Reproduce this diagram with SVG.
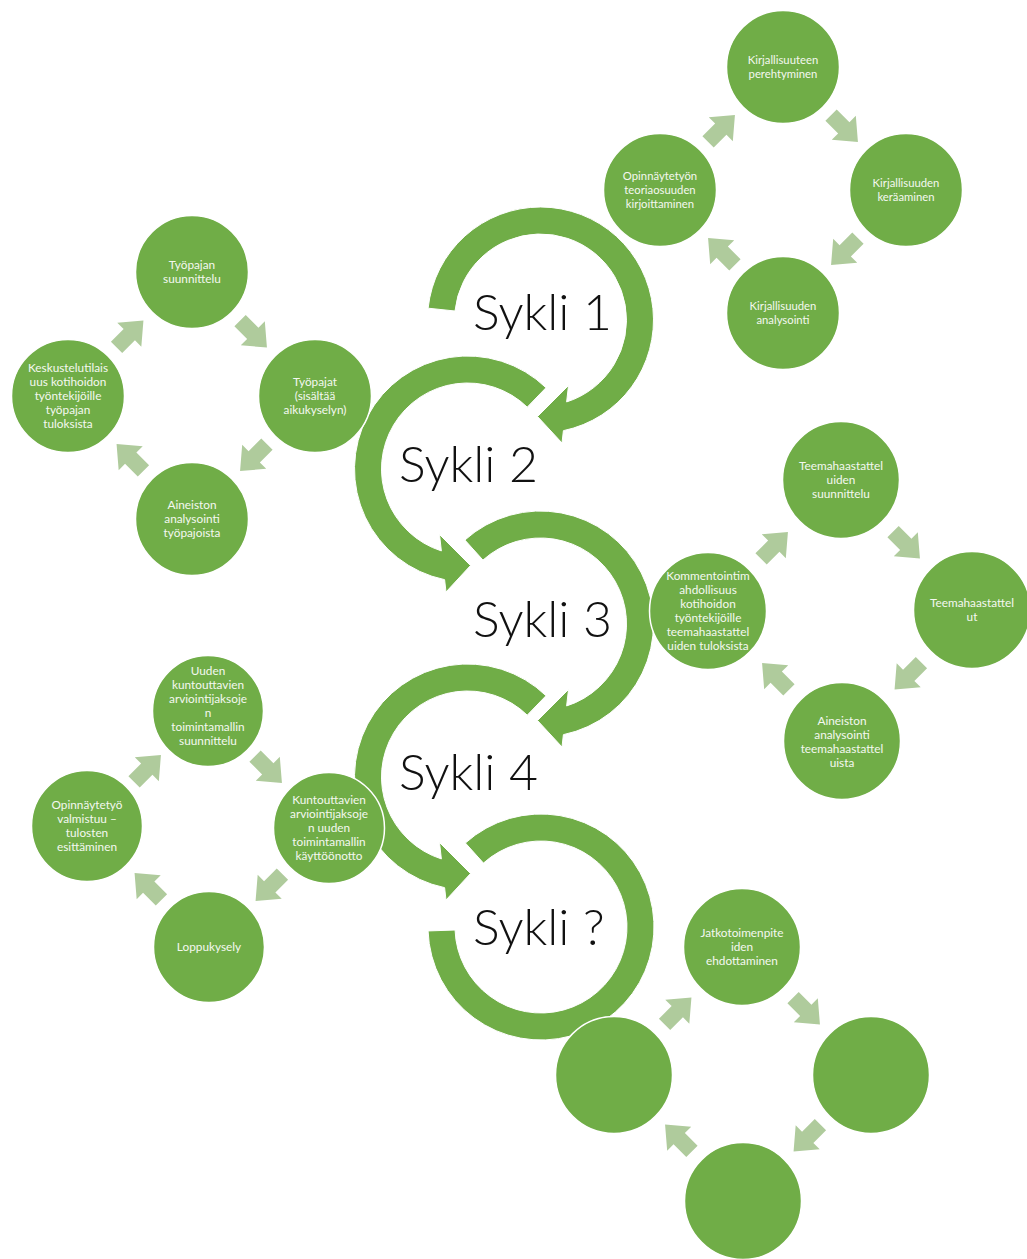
<svg xmlns="http://www.w3.org/2000/svg" xmlns:xlink="http://www.w3.org/1999/xlink" width="1027" height="1259" viewBox="0 0 1027 1259">
<style>
.c{fill:#70AD47;stroke:#fff;stroke-width:1.5}
.r{fill:#70AD47;stroke:#fff;stroke-width:1}
.a{fill:#AFCB9C}
.t{font-family:Lato,"Open Sans","Liberation Sans",sans-serif;fill:#f4f8f0;text-anchor:middle;font-size:11.8px}
.ts{font-size:11.3px}
.s{font-family:Lato,"Open Sans","Liberation Sans",sans-serif;font-weight:300;font-size:50px;fill:#111}
</style>
<defs>
<path id="sa" d="M-19,-8 L-1,-8 L-1,-17 L19,0 L-1,17 L-1,8 L-19,8 Z"/>
</defs>
<rect width="1027" height="1259" fill="#fff"/>
<g id="cycles">
<g id="sykli1"><path class="r" transform="translate(540.5,320)" d="M-112.38,-11.81 A113,113 0 1 1 22.9,110.65 L21.5,123 L-3,96.5 L28,65.5 L26.14,81.93 A86,86 0 1 0 -85.53,-8.99 Z"/><text class="s" x="473" y="330">Sykli 1</text></g>
<g id="sykli2"><path class="r" transform="translate(467.5,469)" d="M78.5,-81.29 A113,113 0 1 0 -22.9,110.65 L-21.5,123 L3,96.5 L-28,65.5 L-26.14,81.93 A86,86 0 1 1 59.74,-61.86 Z"/><text class="s" x="399" y="482">Sykli 2</text></g>
<g id="sykli3"><path class="r" transform="translate(540.5,624)" d="M-75.61,-83.98 A113,113 0 1 1 22.9,110.65 L21.5,123 L-3,96.5 L28,65.5 L26.14,81.93 A86,86 0 1 0 -57.55,-63.91 Z"/><text class="s" x="473" y="637">Sykli 3</text></g>
<g id="sykli4"><path class="r" transform="translate(467.5,777)" d="M78.5,-81.29 A113,113 0 1 0 -22.9,110.65 L-21.5,123 L3,96.5 L-28,65.5 L-26.14,81.93 A86,86 0 1 1 59.74,-61.86 Z"/><text class="s" x="399" y="790">Sykli 4</text></g>
<g id="sykli5"><path class="r" transform="translate(541,927)" d="M-75.61,-83.98 A113,113 0 1 1 -112.93,3.94 L-85.95,3 A86,86 0 1 0 -57.55,-63.91 Z"/><text class="s" x="473" y="945">Sykli ?</text></g>
</g>
<g id="connectors" class="a">
<use xlink:href="#sa" transform="translate(721.5,128.5) rotate(-45)"/>
<use xlink:href="#sa" transform="translate(844.5,128.5) rotate(45)"/>
<use xlink:href="#sa" transform="translate(844.5,251.5) rotate(135)"/>
<use xlink:href="#sa" transform="translate(721.5,251.5) rotate(-135)"/>
<use xlink:href="#sa" transform="translate(130,334) rotate(-45)"/>
<use xlink:href="#sa" transform="translate(253.5,334) rotate(45)"/>
<use xlink:href="#sa" transform="translate(253.5,457.5) rotate(135)"/>
<use xlink:href="#sa" transform="translate(130,457.5) rotate(-135)"/>
<use xlink:href="#sa" transform="translate(774.5,545.5) rotate(-45)"/>
<use xlink:href="#sa" transform="translate(906.5,545) rotate(45)"/>
<use xlink:href="#sa" transform="translate(908,676) rotate(135)"/>
<use xlink:href="#sa" transform="translate(775.5,676.5) rotate(-135)"/>
<use xlink:href="#sa" transform="translate(147.5,768.5) rotate(-45)"/>
<use xlink:href="#sa" transform="translate(268.5,769.5) rotate(45)"/>
<use xlink:href="#sa" transform="translate(269,887.5) rotate(135)"/>
<use xlink:href="#sa" transform="translate(148,886.5) rotate(-135)"/>
<use xlink:href="#sa" transform="translate(678,1011) rotate(-45)"/>
<use xlink:href="#sa" transform="translate(806.5,1011) rotate(45)"/>
<use xlink:href="#sa" transform="translate(807,1138) rotate(135)"/>
<use xlink:href="#sa" transform="translate(678.5,1138) rotate(-135)"/>
</g>
<g id="a1"><circle class="c" cx="783" cy="67" r="56.5"/><text class="t ts"><tspan x="783" y="64.2">Kirjallisuuteen</tspan><tspan x="783" y="78.2">perehtyminen</tspan></text></g>
<g id="a2"><circle class="c" cx="906" cy="190" r="56.5"/><text class="t ts"><tspan x="906" y="187.2">Kirjallisuuden</tspan><tspan x="906" y="201.2">keräaminen</tspan></text></g>
<g id="a3"><circle class="c" cx="783" cy="313" r="56.5"/><text class="t ts"><tspan x="783" y="310.2">Kirjallisuuden</tspan><tspan x="783" y="324.2">analysointi</tspan></text></g>
<g id="a4"><circle class="c" cx="660" cy="190" r="56.5"/><text class="t ts"><tspan x="660" y="180.2">Opinnäytetyön</tspan><tspan x="660" y="194.2">teoriaosuuden</tspan><tspan x="660" y="208.2">kirjoittaminen</tspan></text></g>
<g id="b1"><circle class="c" cx="192" cy="272" r="56.5"/><text class="t"><tspan x="192" y="269.2">Työpajan</tspan><tspan x="192" y="283.2">suunnittelu</tspan></text></g>
<g id="b2"><circle class="c" cx="315" cy="396" r="56.5"/><text class="t"><tspan x="315" y="386.2">Työpajat</tspan><tspan x="315" y="400.2">(sisältää</tspan><tspan x="315" y="414.2">aikukyselyn)</tspan></text></g>
<g id="b3"><circle class="c" cx="192" cy="519" r="56.5"/><text class="t"><tspan x="192" y="509.2">Aineiston</tspan><tspan x="192" y="523.2">analysointi</tspan><tspan x="192" y="537.2">työpajoista</tspan></text></g>
<g id="b4"><circle class="c" cx="68" cy="396" r="56.5"/><text class="t"><tspan x="68" y="372.2">Keskustelutilais</tspan><tspan x="68" y="386.2">uus kotihoidon</tspan><tspan x="68" y="400.2">työntekijöille</tspan><tspan x="68" y="414.2">työpajan</tspan><tspan x="68" y="428.2">tuloksista</tspan></text></g>
<g id="c1"><circle class="c" cx="841" cy="480" r="58.5"/><text class="t"><tspan x="841" y="470.2">Teemahaastattel</tspan><tspan x="841" y="484.2">uiden</tspan><tspan x="841" y="498.2">suunnittelu</tspan></text></g>
<g id="c2"><circle class="c" cx="972" cy="610" r="58.5"/><text class="t"><tspan x="972" y="607.2">Teemahaastattel</tspan><tspan x="972" y="621.2">ut</tspan></text></g>
<g id="c3"><circle class="c" cx="842" cy="741" r="58.5"/><text class="t"><tspan x="842" y="725.2">Aineiston</tspan><tspan x="842" y="739.2">analysointi</tspan><tspan x="842" y="753.2">teemahaastattel</tspan><tspan x="842" y="767.2">uista</tspan></text></g>
<g id="c4"><circle class="c" cx="708" cy="611" r="58.5"/><text class="t"><tspan x="708" y="580.2">Kommentointim</tspan><tspan x="708" y="594.2">ahdollisuus</tspan><tspan x="708" y="608.2">kotihoidon</tspan><tspan x="708" y="622.2">työntekijöille</tspan><tspan x="708" y="636.2">teemahaastattel</tspan><tspan x="708" y="650.2">uiden tuloksista</tspan></text></g>
<g id="d1"><circle class="c" cx="208" cy="711" r="55.5"/><text class="t"><tspan x="208" y="675.2">Uuden</tspan><tspan x="208" y="689.2">kuntouttavien</tspan><tspan x="208" y="703.2">arviointijaksoje</tspan><tspan x="208" y="717.2">n</tspan><tspan x="208" y="731.2">toimintamallin</tspan><tspan x="208" y="745.2">suunnittelu</tspan></text></g>
<g id="d2"><circle class="c" cx="329" cy="828" r="55.5"/><text class="t"><tspan x="329" y="804.2">Kuntouttavien</tspan><tspan x="329" y="818.2">arviointijaksoje</tspan><tspan x="329" y="832.2">n uuden</tspan><tspan x="329" y="846.2">toimintamallin</tspan><tspan x="329" y="860.2">käyttöönotto</tspan></text></g>
<g id="d3"><circle class="c" cx="209" cy="947" r="55.5"/><text class="t"><tspan x="209" y="951.2">Loppukysely</tspan></text></g>
<g id="d4"><circle class="c" cx="87" cy="826" r="55.5"/><text class="t"><tspan x="87" y="809.2">Opinnäytetyö</tspan><tspan x="87" y="823.2">valmistuu –</tspan><tspan x="87" y="837.2">tulosten</tspan><tspan x="87" y="851.2">esittäminen</tspan></text></g>
<g id="e1"><circle class="c" cx="742" cy="947" r="58.5"/><text class="t"><tspan x="742" y="937.2">Jatkotoimenpite</tspan><tspan x="742" y="951.2">iden</tspan><tspan x="742" y="965.2">ehdottaminen</tspan></text></g>
<g id="e2"><circle class="c" cx="871" cy="1075" r="58.5"/></g>
<g id="e3"><circle class="c" cx="743" cy="1201" r="58.5"/></g>
<g id="e4"><circle class="c" cx="614" cy="1075" r="58.5"/></g>
</svg>
